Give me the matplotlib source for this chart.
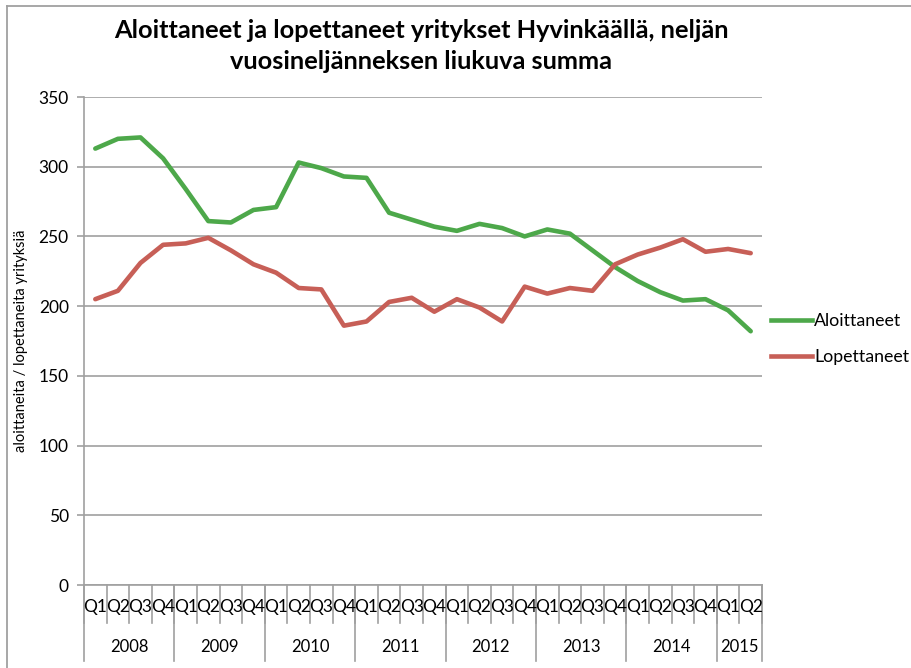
import matplotlib
matplotlib.use("Agg")
import matplotlib.pyplot as plt
from matplotlib.lines import Line2D
import matplotlib.transforms as mtransforms

plt.rcParams['font.family'] = ['Lato', 'DejaVu Sans']

years = ["2008", "2009", "2010", "2011", "2012", "2013", "2014", "2015"]
quarters_per_year = [4, 4, 4, 4, 4, 4, 4, 2]
quarter_names = ["Q1", "Q2", "Q3", "Q4"]

aloittaneet = [313, 320, 321, 306, 284, 261, 260, 269, 271, 303, 299, 293, 292, 267, 262,
               257, 254, 259, 256, 250, 255, 252, 240, 228, 218, 210, 204, 205, 197, 182]
lopettaneet = [205, 211, 231, 244, 245, 249, 240, 230, 224, 213, 212, 186, 189, 203, 206,
               196, 205, 199, 189, 214, 209, 213, 211, 230, 237, 242, 248, 239, 241, 238]

title = "Aloittaneet ja lopettaneet yritykset Hyvinkäällä, neljän\nvuosineljänneksen liukuva summa"
ylabel = "aloittaneita / lopettaneita yrityksiä"

green = "#4da84a"
red = "#c75f57"
grid_c = "#a0a0a0"

fig = plt.figure(figsize=(9.12, 6.68), dpi=100)
W, H = 912, 668
ax = fig.add_axes([84 / W, 1 - 585 / H, (762 - 84) / W, (585 - 97) / H])

qlabels = []
for n in quarters_per_year:
    qlabels += quarter_names[:n]
x = list(range(len(qlabels)))

ax.plot(x, aloittaneet, color=green, lw=3.3, label="Aloittaneet", solid_capstyle='round', zorder=3)
ax.plot(x, lopettaneet, color=red, lw=3.3, label="Lopettaneet", solid_capstyle='round', zorder=3)

ax.set_xlim(-0.5, len(x) - 0.5)
ax.set_ylim(0, 350)
ax.set_yticks(range(0, 351, 50))
ax.yaxis.grid(True, color=grid_c, lw=1.2)
ax.set_axisbelow(True)
for s in ["top", "right"]:
    ax.spines[s].set_visible(False)
ax.spines["left"].set_color(grid_c)
ax.spines["left"].set_linewidth(1.2)
ax.spines["bottom"].set_color(grid_c)
ax.spines["bottom"].set_linewidth(1.2)
ax.tick_params(axis='y', colors=grid_c, length=5, width=1.2, labelsize=12.5, labelcolor='black', pad=6)
ax.set_xticks([])

ax.set_ylabel(ylabel, fontsize=10.5)
ax.yaxis.set_label_coords(-(84 - 28) / (762 - 84), 0.5)

# multi-level category axis
trans = mtransforms.blended_transform_factory(ax.transData, ax.transAxes)
ppx = 1.0 / (585 - 97)
q_bot = -(623 - 585) * ppx
y_bot = -(661 - 585) * ppx
for i in range(len(x) + 1):
    ax.plot([i - 0.5, i - 0.5], [0, q_bot], transform=trans, color=grid_c, lw=1.2, clip_on=False)
for i, lab in enumerate(qlabels):
    ax.text(i, -(607 - 585) * ppx, lab, transform=trans, ha='center', va='center', fontsize=12.5)
start = 0
bounds = [0]
for yr, n in zip(years, quarters_per_year):
    ax.text(start + n / 2 - 0.5, -(647 - 585) * ppx, yr, transform=trans, ha='center', va='center', fontsize=12)
    start += n
    bounds.append(start)
for b in bounds:
    ax.plot([b - 0.5, b - 0.5], [0, y_bot], transform=trans, color=grid_c, lw=1.2, clip_on=False)

fig.text(421 / W, 1 - 46 / H, title, ha='center', va='center', fontsize=18.3, fontweight='bold',
         linespacing=1.45)

handles = [Line2D([0], [0], color=green, lw=3.3), Line2D([0], [0], color=red, lw=3.3)]
fig.legend(handles, ["Aloittaneet", "Lopettaneet"], loc='upper left',
           bbox_to_anchor=(771 / W, 1 - 313 / H), frameon=False, fontsize=12.8,
           handlelength=2.3, handletextpad=0.12, labelspacing=1.15,
           borderaxespad=0, borderpad=0)

# chart frame
fig.add_artist(Line2D([7 / W, 7 / W], [0, 1 - 6 / H], color=grid_c, lw=1.3))
fig.add_artist(Line2D([7 / W, 1], [1 - 6 / H, 1 - 6 / H], color=grid_c, lw=1.3))

fig.savefig("out.png", dpi=100)
